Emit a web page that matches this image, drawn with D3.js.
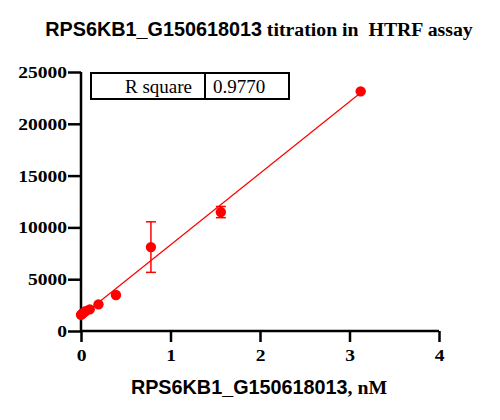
<!DOCTYPE html>
<html>
<head>
<meta charset="utf-8">
<script src="https://cdn.jsdelivr.net/npm/d3@7"></script>
<style>
  body { margin: 0; background: #fff; }
  .tick text { font-family: "Liberation Serif", "Times New Roman", serif !important; font-weight: bold; }
</style>
</head>
<body>
<div id="chart"></div>
<script>
// Concentration (nM), 2-fold dilution series
var conc = [0, 0.0122, 0.0244, 0.0488, 0.0977, 0.1953, 0.3906, 0.7813, 1.5625, 3.125];
// HTRF signal (mean) and SD
var signal = [1560, 1650, 1750, 1900, 2090, 2570, 3470, 8100, 11480, 23130];
var sd = [0, 0, 0, 0, 0, 0, 0, 2440, 540, 0];

// linear fit
var fitSlope = 6908;
var fitIntercept = 1400;
var rSquare = "0.9770";

var xTicks = [0, 1, 2, 3, 4];
var yTicks = [0, 5000, 10000, 15000, 20000, 25000];

var SERIF = '"Liberation Serif", "Times New Roman", serif';
var SANS = '"Liberation Sans", Arial, sans-serif';

var width = 500, height = 420;
var margin = {left: 81, right: 61, top: 72, bottom: 89};

var svg = d3.select("#chart").append("svg")
    .attr("width", width)
    .attr("height", height);

var x = d3.scaleLinear().domain([0, 4]).range([margin.left, width - margin.right]);
var y = d3.scaleLinear().domain([0, 25000]).range([height - margin.bottom, margin.top]);

// widen text a bit (the original labels look stretched)
function stretch(sel, k) {
    sel.each(function () {
        var len = this.getComputedTextLength();
        d3.select(this).attr("textLength", len * k).attr("lengthAdjust", "spacingAndGlyphs");
    });
}

// mixed-font label: Arial bold name + Times bold rest
function mixedLabel(xPos, yPos, first, rest) {
    var t = svg.append("text")
        .attr("x", xPos)
        .attr("y", yPos)
        .attr("text-anchor", "middle")
        .attr("fill", "#000")
        .style("font-weight", "bold")
        .style("white-space", "pre");
    t.append("tspan").style("font-family", SANS).style("font-size", "19.8px").text(first);
    t.append("tspan").style("font-family", SERIF).style("font-size", "19.8px").text(rest);
    return t;
}

mixedLabel(259, 36, "RPS6KB1_G150618013", " titration in  HTRF assay");

// Axes
var xAxis = svg.append("g")
    .attr("transform", "translate(0," + y(0) + ")")
    .call(d3.axisBottom(x).tickValues(xTicks).tickSize(11).tickPadding(7).tickFormat(d3.format("d")));
var yAxis = svg.append("g")
    .attr("transform", "translate(" + x(0) + ",0)")
    .call(d3.axisLeft(y).tickValues(yTicks).tickSize(13).tickPadding(1).tickFormat(d3.format("d")));

[xAxis, yAxis].forEach(function (ax) {
    ax.attr("font-family", SERIF).attr("font-weight", "bold").attr("font-size", 17);
    ax.select(".domain").attr("stroke", "#000").attr("stroke-width", 2.5);
    ax.selectAll(".tick line").attr("stroke", "#000").attr("stroke-width", 2.5);
    ax.selectAll(".tick text")
        .attr("fill", "#000")
        .style("font-family", SERIF)
        .style("font-weight", "bold")
        .style("font-size", "17px");
});
// domain lines without outer ticks
xAxis.select(".domain").attr("d", "M" + x(0) + ",0H" + x(4));
yAxis.select(".domain").attr("d", "M0," + y(0) + "V" + y(25000));
stretch(yAxis.selectAll(".tick text"), 1.15);
stretch(xAxis.selectAll(".tick text"), 1.15);

// x-axis title
mixedLabel(259, 394, "RPS6KB1_G150618013", ", nM");

var red = "#ff0000";

// fit line
svg.append("line")
    .attr("x1", x(0))
    .attr("y1", y(fitIntercept))
    .attr("x2", x(d3.max(conc)))
    .attr("y2", y(fitIntercept + fitSlope * d3.max(conc)))
    .attr("stroke", red)
    .attr("stroke-width", 1.3);

var pts = conc.map(function (c, i) { return {x: c, y: signal[i], sd: sd[i]}; });

// error bars
var eb = svg.append("g").selectAll("g")
    .data(pts.filter(function (d) { return d.sd > 0; }))
    .enter().append("g")
    .attr("stroke", red)
    .attr("stroke-width", 1.5);
eb.append("line")
    .attr("x1", function (d) { return x(d.x); })
    .attr("x2", function (d) { return x(d.x); })
    .attr("y1", function (d) { return y(d.y - d.sd); })
    .attr("y2", function (d) { return y(d.y + d.sd); });
eb.append("line")
    .attr("x1", function (d) { return x(d.x) - 5; })
    .attr("x2", function (d) { return x(d.x) + 5; })
    .attr("y1", function (d) { return y(d.y + d.sd); })
    .attr("y2", function (d) { return y(d.y + d.sd); });
eb.append("line")
    .attr("x1", function (d) { return x(d.x) - 5; })
    .attr("x2", function (d) { return x(d.x) + 5; })
    .attr("y1", function (d) { return y(d.y - d.sd); })
    .attr("y2", function (d) { return y(d.y - d.sd); });

// points
svg.append("g").selectAll("circle")
    .data(pts)
    .enter().append("circle")
    .attr("cx", function (d) { return x(d.x); })
    .attr("cy", function (d) { return y(d.y); })
    .attr("r", 5.2)
    .attr("fill", red);

// R square box
var box = svg.append("g").attr("transform", "translate(91,73)");
box.append("rect")
    .attr("width", 198).attr("height", 26)
    .attr("fill", "#fff").attr("stroke", "#000").attr("stroke-width", 2);
box.append("line")
    .attr("x1", 114).attr("x2", 114).attr("y1", 0).attr("y2", 26)
    .attr("stroke", "#000").attr("stroke-width", 2);
box.append("text")
    .attr("x", 101).attr("y", 20)
    .attr("text-anchor", "end")
    .style("font-family", SERIF)
    .style("font-size", "19px")
    .text("R square");
box.append("text")
    .attr("x", 148).attr("y", 20)
    .attr("text-anchor", "middle")
    .style("font-family", SERIF)
    .style("font-size", "19px")
    .text(rSquare);
</script>
</body>
</html>
